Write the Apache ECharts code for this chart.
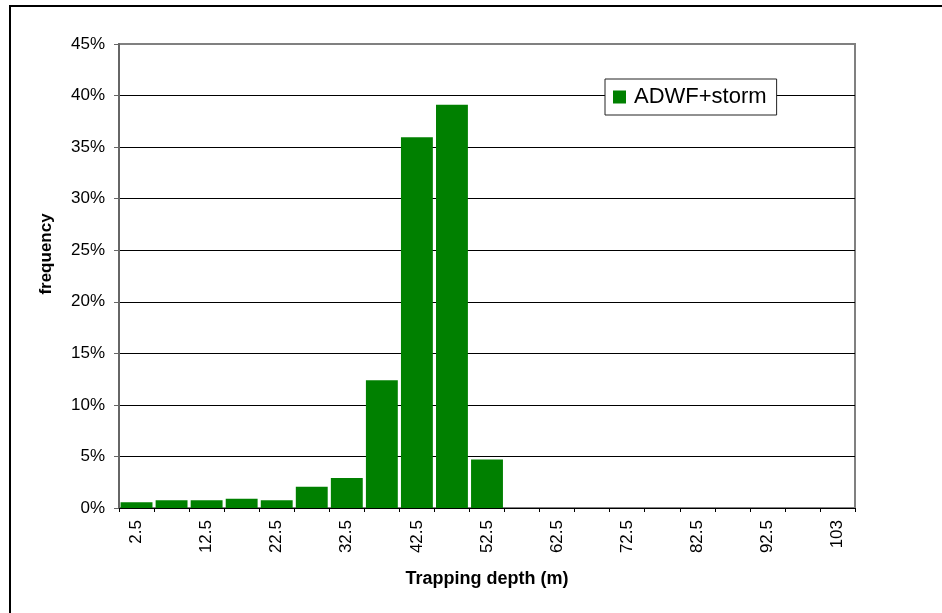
<!DOCTYPE html>
<html>
<head>
<meta charset="utf-8">
<script src="https://cdn.jsdelivr.net/npm/echarts@6/dist/echarts.min.js"></script>
<style>
  html, body { margin: 0; padding: 0; background: #fff; }
  #chart { width: 942px; height: 613px; }
</style>
</head>
<body>
<div id="chart"></div>
<script>
// Trapping depth bins (m)
const depthBins = ['2.5', '7.5', '12.5', '17.5', '22.5', '27.5', '32.5', '37.5', '42.5', '47.5',
  '52.5', '57.5', '62.5', '67.5', '72.5', '77.5', '82.5', '87.5', '92.5', '97.5', '103'];
// Frequency of each bin, in percent
const adwfStorm = [0.55, 0.75, 0.75, 0.9, 0.75, 2.05, 2.9, 12.4, 35.95, 39.1,
  4.7, 0, 0, 0, 0, 0, 0, 0, 0, 0, 0];
const seriesName = 'ADWF+storm';
const yMax = 45;
const yStep = 5;

const gridColors = [];
for (let v = 0; v <= yMax; v += yStep) gridColors.push(v === yMax ? '#808080' : '#000');

const chart = echarts.init(document.getElementById('chart'), null, { renderer: 'canvas' });
const font = 'Arial, "Liberation Sans", sans-serif';

chart.setOption({
  animation: false,
  backgroundColor: '#fff',
  grid: {
    left: 119, right: 87, top: 44, bottom: 105,
    show: true, borderColor: '#808080', borderWidth: 2, backgroundColor: 'transparent'
  },
  legend: {
    data: [seriesName],
    left: 605, top: 79,
    orient: 'vertical',
    backgroundColor: '#fff',
    borderColor: '#222',
    borderWidth: 1,
    padding: [7, 10, 7, 8],
    itemWidth: 13, itemHeight: 13,
    icon: 'rect',
    textStyle: { fontFamily: font, fontSize: 22, color: '#000', padding: [0, 0, 0, 3] }
  },
  xAxis: {
    type: 'category',
    data: depthBins,
    name: 'Trapping depth (m)',
    nameLocation: 'middle',
    nameGap: 62,
    nameTextStyle: { fontFamily: font, fontSize: 18, fontWeight: 'bold', color: '#000' },
    axisLine: { lineStyle: { color: '#000', width: 1 } },
    axisTick: { show: true, interval: 0, length: 4, lineStyle: { color: '#000' } },
    axisLabel: {
      interval: 1, rotate: 90, margin: 12,
      fontFamily: font, fontSize: 17, color: '#000'
    },
    splitLine: { show: false }
  },
  yAxis: {
    type: 'value',
    min: 0, max: yMax, interval: yStep,
    name: 'frequency',
    nameLocation: 'middle',
    nameGap: 64,
    nameRotate: 90,
    nameTextStyle: {
      fontFamily: font, fontSize: 17, fontWeight: 'bold', color: '#000',
      padding: [0, 0, 0, 44]
    },
    axisLine: { show: true, lineStyle: { color: '#666', width: 2 } },
    axisTick: { show: true, length: 5, lineStyle: { color: '#666' } },
    axisLabel: { formatter: '{value}%', margin: 14, fontFamily: font, fontSize: 17, color: '#000' },
    splitLine: { show: true, lineStyle: { color: gridColors, width: 1 } }
  },
  series: [{
    name: seriesName,
    type: 'bar',
    data: adwfStorm,
    barCategoryGap: '9%',
    itemStyle: { color: '#008000' }
  }],
  graphic: [{
    type: 'rect',
    silent: true,
    shape: { x: 10, y: 6, width: 960, height: 640 },
    style: { fill: 'none', stroke: '#000', lineWidth: 2 },
    z: 100
  }]
});
</script>
</body>
</html>
